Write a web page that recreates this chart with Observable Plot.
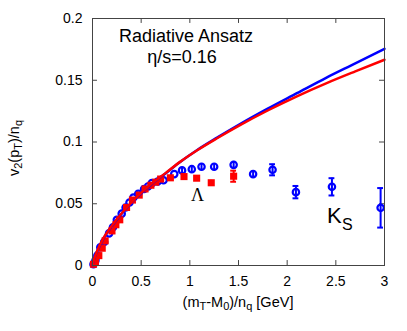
<!DOCTYPE html>
<html><head><meta charset="utf-8">
<script src="https://cdn.jsdelivr.net/npm/d3@7"></script>
<script src="https://cdn.jsdelivr.net/npm/@observablehq/plot@0.6"></script>
<style>body{margin:0;background:#fff}</style>
</head><body><div id="chart"></div>
<script>
// K_S (blue open circles)
const ksX = [0.01,0.03,0.05,0.08,0.12,0.17,0.21,0.25,0.30,0.34,0.38,0.42,0.47,0.53,0.57,0.61,0.67,0.73,0.84,0.92,1.02,1.12,1.25,1.45,1.65,1.85,2.09,2.46,2.96];
const ksY = [0.001,0.004,0.008,0.0148,0.019,0.026,0.031,0.037,0.042,0.047,0.051,0.055,0.058,0.062,0.064,0.0667,0.068,0.069,0.074,0.077,0.078,0.080,0.080,0.0815,0.074,0.0775,0.0594,0.0637,0.0467];
const ksErr = [0,0,0,0,0,0,0,0,0,0,0,0,0,0,0,0,0,0,0,0.0025,0.0025,0.0025,0.0025,0.0028,0.0028,0.0045,0.005,0.007,0.016];
// Lambda (red filled squares)
const lamX = [0.01,0.03,0.065,0.10,0.13,0.20,0.24,0.28,0.35,0.41,0.48,0.54,0.60,0.65,0.70,0.80,0.94,1.07,1.22,1.45];
const lamY = [0.001,0.003,0.008,0.014,0.020,0.028,0.033,0.037,0.047,0.053,0.057,0.062,0.065,0.0675,0.070,0.071,0.072,0.0707,0.067,0.0723];
const lamErr = [0,0,0,0,0,0,0,0,0,0,0,0,0,0,0,0,0,0,0.002,0.0045];
// theory curves
const curveX = [0,0.02,0.05,0.1,0.2,0.3,0.4,0.5,0.6,0.75,0.9,1.076,1.28,1.52,1.8,2.1,2.4,2.7,3.0];
const blueCurveY = [0,0.006,0.012,0.020,0.032,0.042,0.051,0.0585,0.0654,0.0745,0.0838,0.0935,0.1035,0.1147,0.127,0.1395,0.152,0.1637,0.1755];
const redCurveY  = [0,0.006,0.0122,0.0203,0.0323,0.0423,0.0512,0.0588,0.0657,0.0748,0.0839,0.0933,0.1030,0.1138,0.1255,0.1370,0.1475,0.1572,0.1666];
// ticks
const xTicks = [0,0.5,1,1.5,2,2.5,3];
const xTickLabels = ["0","0.5","1","1.5","2","2.5","3"];
const yTicks = [0,0.05,0.1,0.15,0.2];
const yTickLabels = ["0","0.05","0.1","0.15","0.2"];

const ks = ksX.map((x,i)=>({x, y:ksY[i], e:ksErr[i]}));
const lam = lamX.map((x,i)=>({x, y:lamY[i], e:lamErr[i]}));
const blueC = curveX.map((x,i)=>({x, y:blueCurveY[i]}));
const redC = curveX.map((x,i)=>({x, y:redCurveY[i]}));
const ksE = ks.filter(d=>d.e>0), lamE = lam.filter(d=>d.e>0);
const ksC = ks.filter(d=>d.e>=0.004), lamC = lam.filter(d=>d.e>=0.004);
const BLUE = "#0000ff", RED = "#ff0000", AX = "#444";
const tx = 0.051, ty = 0.004, cap = 0.03;

const svg = Plot.plot({
  width: 407, height: 331,
  marginLeft: 92, marginRight: 23, marginTop: 18, marginBottom: 66,
  style: {fontFamily: "'Liberation Sans', Arial, sans-serif", fontSize: "14px", color: "#000", background: "#fff"},
  x: {domain: [0,3], label: null},
  y: {domain: [0,0.2], label: null},
  marks: [
    Plot.axisX({ticks: xTicks, tickSize: 0, tickPadding: 11, tickFormat: d=>xTickLabels[xTicks.indexOf(d)], label: null, fontSize: 14}),
    Plot.axisY({ticks: yTicks, tickSize: 0, tickPadding: 10, tickFormat: d=>yTickLabels[yTicks.indexOf(d)], label: null, fontSize: 14}),
    Plot.ruleX(xTicks, {x: d=>d, y1: 0, y2: ty, stroke: AX}),
    Plot.ruleX(xTicks, {x: d=>d, y1: 0.2-ty, y2: 0.2, stroke: AX}),
    Plot.ruleY(yTicks, {y: d=>d, x1: 0, x2: tx, stroke: AX}),
    Plot.ruleY(yTicks, {y: d=>d, x1: 3-tx, x2: 3, stroke: AX}),
    // error bars
    Plot.ruleX(lamE, {x: "x", y1: d=>d.y-d.e, y2: d=>d.y+d.e, stroke: RED, strokeWidth: 2}),
    Plot.ruleY(lamC, {y: d=>d.y-d.e, x1: d=>d.x-cap, x2: d=>d.x+cap, stroke: RED, strokeWidth: 2}),
    Plot.ruleY(lamC, {y: d=>d.y+d.e, x1: d=>d.x-cap, x2: d=>d.x+cap, stroke: RED, strokeWidth: 2}),
    Plot.ruleX(ksE, {x: "x", y1: d=>d.y-d.e, y2: d=>d.y+d.e, stroke: BLUE, strokeWidth: 2}),
    Plot.ruleY(ksC, {y: d=>d.y-d.e, x1: d=>d.x-cap, x2: d=>d.x+cap, stroke: BLUE, strokeWidth: 2}),
    Plot.ruleY(ksC, {y: d=>d.y+d.e, x1: d=>d.x-cap, x2: d=>d.x+cap, stroke: BLUE, strokeWidth: 2}),
    Plot.dot(ks, {x: "x", y: "y", r: 3.2, stroke: BLUE, strokeWidth: 2.2, fill: "none"}),
    Plot.dot(lam, {x: "x", y: "y", r: 4, symbol: "square", fill: RED, stroke: "none"}),
    Plot.line(blueC, {x: "x", y: "y", stroke: BLUE, strokeWidth: 2.5, curve: "monotone-x"}),
    Plot.line(redC, {x: "x", y: "y", stroke: RED, strokeWidth: 2.5, curve: "monotone-x"}),
    Plot.frame({stroke: AX}),
    Plot.text(["Radiative Ansatz"], {x: 0.96, y: 0.181, text: d=>d, fontSize: 18, textAnchor: "middle", lineAnchor: "bottom", fill: "#000"}),
    Plot.text(["η/s=0.16"], {x: 0.92, y: 0.164, text: d=>d, fontSize: 18, textAnchor: "middle", lineAnchor: "bottom", fill: "#000"}),
    Plot.text(["Λ"], {x: 1.08, y: 0.0526, text: d=>d, fontSize: 18, fontFamily: "'Liberation Serif', serif", textAnchor: "middle", lineAnchor: "bottom", fill: "#000"}),
    Plot.text(["K"], {x: 2.41, y: 0.0348, text: d=>d, fontSize: 22, textAnchor: "start", lineAnchor: "bottom", fill: "#000"}),
    Plot.text(["S"], {x: 2.41, y: 0.0348, dx: 15, dy: 7, text: d=>d, fontSize: 16, textAnchor: "start", lineAnchor: "bottom", fill: "#000"})
  ]
});

// axis titles with subscripts
const s = d3.select(svg);
const xl = s.append("text").attr("x", 238).attr("y", 307).attr("text-anchor", "middle")
  .attr("font-size", 14.5).attr("fill", "#000");
xl.append("tspan").text("(m");
xl.append("tspan").attr("font-size", 11).attr("dy", 3).text("T");
xl.append("tspan").attr("dy", -3).text("-M");
xl.append("tspan").attr("font-size", 11).attr("dy", 3).text("0");
xl.append("tspan").attr("dy", -3).text(")/n");
xl.append("tspan").attr("font-size", 11).attr("dy", 3).text("q");
xl.append("tspan").attr("dy", -3).text(" [GeV]");

const yl = s.append("text").attr("transform", "translate(19,148) rotate(-90)").attr("text-anchor", "middle")
  .attr("font-size", 14.5).attr("fill", "#000");
yl.append("tspan").text("v");
yl.append("tspan").attr("font-size", 11).attr("dy", 3).text("2");
yl.append("tspan").attr("dy", -3).text("(p");
yl.append("tspan").attr("font-size", 11).attr("dy", 3).text("T");
yl.append("tspan").attr("dy", -3).text(")/n");
yl.append("tspan").attr("font-size", 11).attr("dy", 3).text("q");

document.getElementById("chart").appendChild(svg);
</script></body></html>
